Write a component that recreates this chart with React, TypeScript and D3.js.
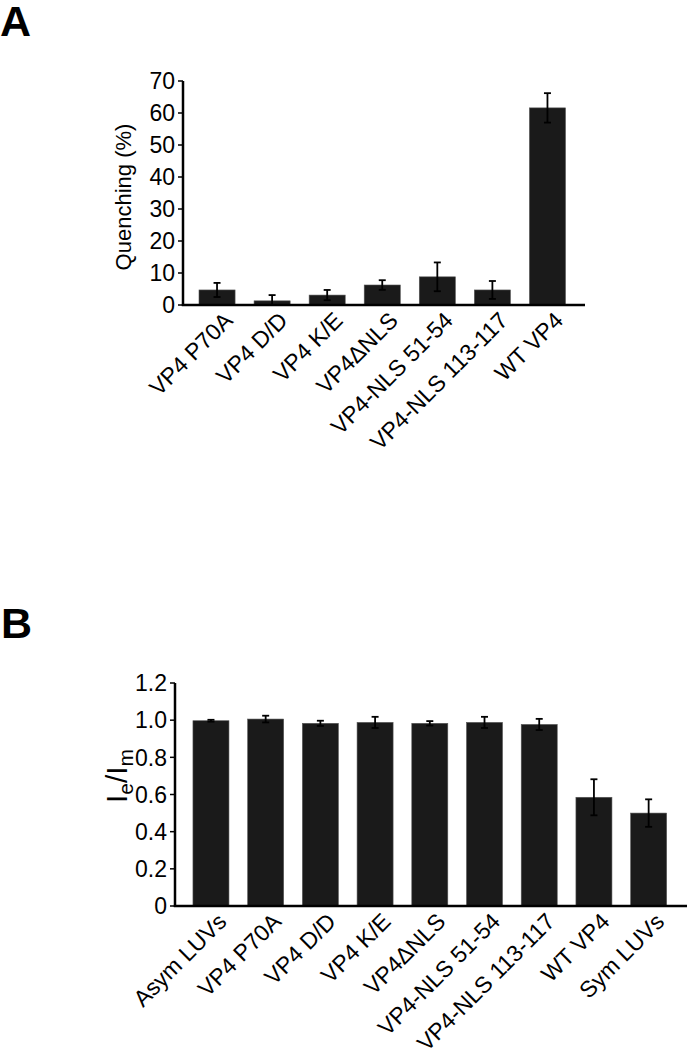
import React from "react";
import * as d3 from "d3";

const labelsA = ["VP4 P70A", "VP4 D/D", "VP4 K/E", "VP4\u0394NLS", "VP4-NLS 51-54", "VP4-NLS 113-117", "WT VP4"];
const valuesA = [4.7, 1.3, 3.1, 6.25, 8.8, 4.7, 61.6];
const errorsA = [2.2, 1.8, 1.6, 1.5, 4.5, 2.8, 4.6];
const ticksA = [0, 10, 20, 30, 40, 50, 60, 70];

const labelsB = ["Asym LUVs", "VP4 P70A", "VP4 D/D", "VP4 K/E", "VP4\u0394NLS", "VP4-NLS 51-54", "VP4-NLS 113-117", "WT VP4", "Sym LUVs"];
const valuesB = [0.997, 1.006, 0.983, 0.988, 0.983, 0.988, 0.977, 0.585, 0.5];
const errorsB = [0.005, 0.018, 0.014, 0.03, 0.012, 0.03, 0.03, 0.097, 0.074];
const ticksB = [0, 0.2, 0.4, 0.6, 0.8, 1.0, 1.2];

const FONT = "'Liberation Sans', Arial, Helvetica, sans-serif";

type PanelProps = {
  labels: string[];
  values: number[];
  errors: number[];
  ticks: number[];
  yMax: number;
  axisX: number;
  axisEnd: number;
  y0: number;
  y1: number;
  bandStart: number;
  bandEnd: number;
  padding: number;
  fmt: (v: number) => string;
};

function Panel(p: PanelProps) {
  const x = d3
    .scaleBand<string>()
    .domain(p.labels)
    .range([p.bandStart, p.bandEnd])
    .paddingInner(p.padding)
    .paddingOuter(p.padding / 2);
  const y = d3.scaleLinear().domain([0, p.yMax]).range([p.y0, p.y1]);
  const bw = x.bandwidth();
  return (
    <g>
      {p.labels.map((l, i) => {
        const bx = x(l)!;
        const cx = bx + bw / 2;
        const v = p.values[i];
        const e = p.errors[i];
        return (
          <g key={l}>
            <rect x={bx} y={y(v)} width={bw} height={y(0) - y(v)} fill="#1a1a1a" stroke="#555" strokeWidth={0.6} />
            <line x1={cx} x2={cx} y1={y(v + e)} y2={y(Math.max(0, v - e))} stroke="#000" strokeWidth={1.8} />
            <line x1={cx - 3.5} x2={cx + 3.5} y1={y(v + e)} y2={y(v + e)} stroke="#000" strokeWidth={1.8} />
            <line x1={cx - 3.5} x2={cx + 3.5} y1={y(Math.max(0, v - e))} y2={y(Math.max(0, v - e))} stroke="#000" strokeWidth={1.8} />
            <text
              transform={`translate(${cx + 17},${p.y0 + 17}) rotate(-45)`}
              textAnchor="end"
              fontSize={23}
              fontFamily={FONT}
              fill="#000"
            >
              {l}
            </text>
          </g>
        );
      })}
      <line x1={p.axisX} x2={p.axisX} y1={p.y0 + 1} y2={y(p.yMax)} stroke="#000" strokeWidth={2.5} />
      <line x1={p.axisX - 1.2} x2={p.axisEnd} y1={p.y0} y2={p.y0} stroke="#000" strokeWidth={2.5} />
      {p.ticks.map((t) => (
        <g key={t}>
          <line x1={p.axisX - 5} x2={p.axisX} y1={y(t)} y2={y(t)} stroke="#000" strokeWidth={1.5} />
          <text x={p.axisX - 8} y={y(t)} dy="0.36em" textAnchor="end" fontSize={23} fontFamily={FONT} fill="#000">
            {p.fmt(t)}
          </text>
        </g>
      ))}
    </g>
  );
}

export default function App() {
  return (
    <svg
      width={687}
      height={1050}
      viewBox="0 0 687 1050"
      style={{ position: "absolute", left: 0, top: 0, background: "#fff" }}
    >
      <rect x={0} y={0} width={687} height={1050} fill="#fff" />
      <text x={0} y={36} fontSize={43} fontWeight="bold" fontFamily={FONT} fill="#000">A</text>
      <text x={1} y={638} fontSize={43} fontWeight="bold" fontFamily={FONT} fill="#000">B</text>

      <Panel
        labels={labelsA}
        values={valuesA}
        errors={errorsA}
        ticks={ticksA}
        yMax={70}
        axisX={183}
        axisEnd={585}
        y0={305}
        y1={81}
        bandStart={189.5}
        bandEnd={575}
        padding={0.345}
        fmt={(v) => String(v)}
      />
      <text
        transform="translate(131,197) rotate(-90)"
        textAnchor="middle"
        fontSize={22}
        fontFamily={FONT}
        fill="#000"
      >
        Quenching (%)
      </text>

      <Panel
        labels={labelsB}
        values={valuesB}
        errors={errorsB}
        ticks={ticksB}
        yMax={1.2}
        axisX={175}
        axisEnd={687}
        y0={906}
        y1={683}
        bandStart={183.6}
        bandEnd={676}
        padding={0.342}
        fmt={(v) => (v === 0 ? "0" : v.toFixed(1))}
      />
      <text
        transform="translate(127,776) rotate(-90)"
        textAnchor="middle"
        fontSize={30}
        fontFamily={FONT}
        fill="#000"
      >
        I<tspan fontSize={21} dy="6">e</tspan>
        <tspan dy="-6">/I</tspan>
        <tspan fontSize={21} dy="6">m</tspan>
      </text>
    </svg>
  );
}
